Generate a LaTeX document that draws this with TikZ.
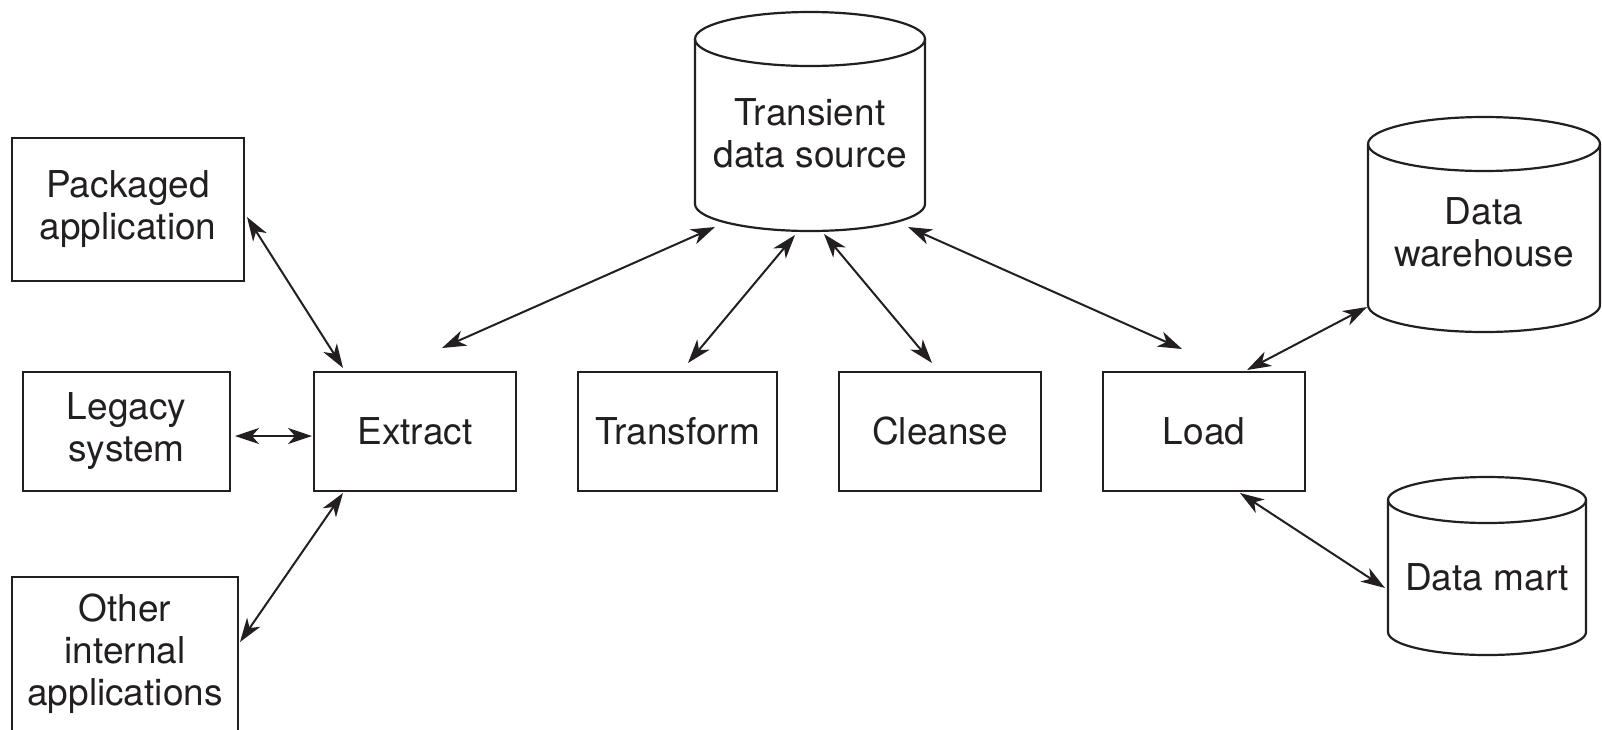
\documentclass[tikz,border=0pt]{standalone}
\usepackage{fontspec}
\setmainfont{TeX Gyre Heros}
\usetikzlibrary{calc,arrows.meta}
\definecolor{ink}{RGB}{35,31,32}
\newcommand\cylshape[5]{%
  \draw[cyl] ($(#1)+(-#2,-#3+#5)$) -- ($(#1)+(-#2,#4-#5)$)
     arc[start angle=180,end angle=360,x radius=#2pt,y radius=#5pt]
     -- ($(#1)+(#2,-#3+#5)$);
  \draw[cyl] ($(#1)+(0,-#3+#5)$) ellipse[x radius=#2pt,y radius=#5pt];
}
\begin{document}
\begin{tikzpicture}[x=1pt,y=-1pt,
  lbl/.style={text=ink, align=center, inner sep=0pt, font=\fontsize{37}{42}\selectfont},
  box/.style={lbl, draw=ink, line width=2.2pt, minimum height=119pt},
  cyl/.style={draw=ink, line width=2.2pt},
  conn/.style={draw=ink, line width=2pt,
    {Stealth[length=24pt,width=16pt,inset=7pt]}-{Stealth[length=24pt,width=16pt,inset=7pt]}}]
\clip (0,0) rectangle (1602,729);
\fill[white] (0,0) rectangle (1602,729);
% boxes
\node[box, minimum width=232pt, minimum height=143pt] (pkg) at (128,209.5) {Packaged\\application};
\node[box, minimum width=207pt] (leg) at (126.5,431.5) {Legacy\\system};
\node[box, minimum width=226pt, minimum height=154pt] (oth) at (125,654) {Other\\internal\\applications};
\node[box, minimum width=202pt] (ext) at (415,431.5) {Extract};
\node[box, minimum width=199pt] (tra) at (677.5,431.5) {Transform};
\node[box, minimum width=202pt] (cle) at (940,431.5) {Cleanse};
\node[box, minimum width=202pt] (load) at (1204,431.5) {Load};
% cylinders
\node[lbl] (ts) at (810,133.5) {Transient\\data source};
\node[lbl] (dw) at (1484,232) {Data\\warehouse};
\node[lbl] (dm) at (1487,577) {Data mart};
\cylshape{ts}{115}{121.5}{97.5}{27}
\cylshape{dw}{116}{115}{100}{27}
\cylshape{dm}{99}{100}{78}{23}
% connectors
\draw[conn] ($(pkg)+(119,7.5)$) -- ($(ext)+(-72,-63.5)$);
\draw[conn] ($(leg)+(108.5,4.5)$) -- ($(ext)+(-103,4.5)$);
\draw[conn] ($(oth)+(115,-12)$) -- ($(ext)+(-72,61.5)$);
\draw[conn] ($(ext)+(27,-83.5)$) -- ($(ts)+(-95,93.5)$);
\draw[conn] ($(tra)+(10.5,-68.5)$) -- ($(ts)+(-15,101.5)$);
\draw[conn] ($(ts)+(14,100.5)$) -- ($(cle)+(-8,-68.5)$);
\draw[conn] ($(ts)+(98,93.5)$) -- ($(load)+(-22,-82.5)$);
\draw[conn] ($(load)+(43,-61.5)$) -- ($(dw)+(-117,75)$);
\draw[conn] ($(load)+(36,61.5)$) -- ($(dm)+(-102,11)$);
\end{tikzpicture}
\end{document}
